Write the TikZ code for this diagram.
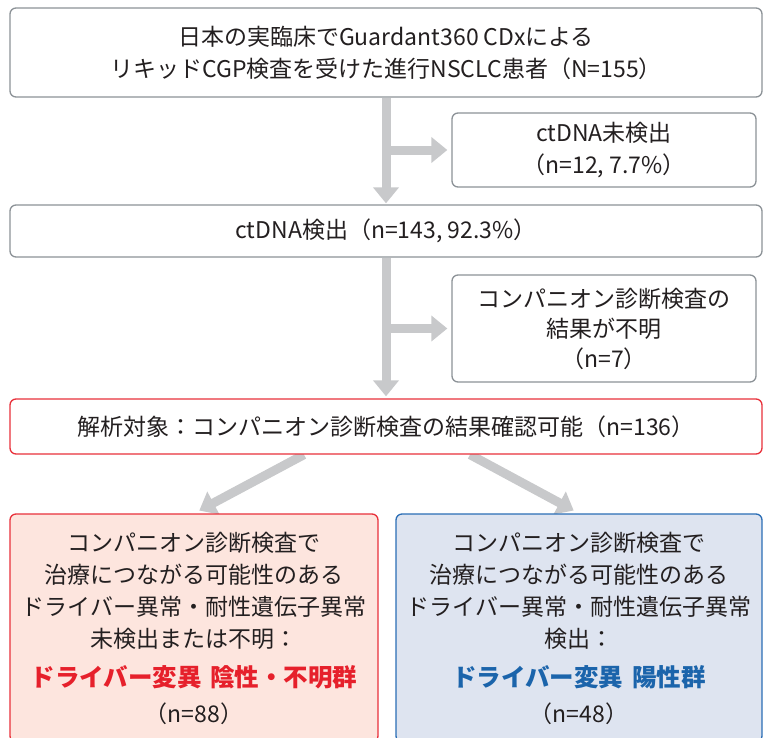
\documentclass[tikz,border=0pt]{standalone}
\usepackage{fontspec}
\setmainfont{Noto Sans CJK JP}
\usetikzlibrary{arrows.meta,backgrounds}
\definecolor{txt}{HTML}{231F20}
\definecolor{arrowgray}{HTML}{C8C9CB}
\definecolor{boxgray}{HTML}{8C9297}
\definecolor{redline}{HTML}{E8303A}
\definecolor{redfill}{HTML}{FDE5DE}
\definecolor{blueline}{HTML}{2A6DB5}
\definecolor{bluefill}{HTML}{DEE4F0}
\definecolor{redtext}{HTML}{E6202B}
\definecolor{bluetext}{HTML}{1B64AB}
\begin{document}
\begin{tikzpicture}[x=1pt,y=-1pt,
  box/.style={draw=boxgray, line width=1.3pt, rounded corners=6pt, fill=white, inner sep=0pt, align=center, text=txt, font=\fontsize{23}{32}\selectfont},
  bigarrow/.style={draw=arrowgray, line width=9pt, -{Triangle[width=25pt,length=16pt]}}
]
\useasboundingbox (0,0) rectangle (771,737);
\node[box, minimum width=752pt, minimum height=89pt] (top) at (386,52.5) {日本の実臨床でGuardant360 CDxによる\\リキッドCGP検査を受けた進行NSCLC患者（N=155）};
\node[box, minimum width=304pt, minimum height=74pt] (undet) at (604,150) {ctDNA未検出\\（n=12, 7.7\%）};
\node[box, minimum width=752pt, minimum height=52pt] (det) at (386,231) {ctDNA検出（n=143, 92.3\%）};
\node[box, minimum width=304pt, minimum height=107pt, font=\fontsize{23}{30}\selectfont] (cdx) at (604,328.5) {コンパニオン診断検査の\\結果が不明\\（n=7）};
\node[box, draw=redline, minimum width=752pt, minimum height=55pt] (target) at (386,426.5) {解析対象：コンパニオン診断検査の結果確認可能（n=136）};
\node[box, draw=redline, fill=redfill, minimum width=368pt, minimum height=228pt] (neg) at (194,628) {コンパニオン診断検査で\\治療につながる可能性のある\\ドライバー異常・耐性遺伝子異常\\未検出または不明：\\[7pt]{\fontsize{24.5}{32}\selectfont\bfseries\color{redtext}ドライバー変異\hspace{0.35em}陰性・不明群}\\[4pt]（n=88）};
\node[box, draw=blueline, fill=bluefill, minimum width=366pt, minimum height=228pt] (pos) at (579,628) {コンパニオン診断検査で\\治療につながる可能性のある\\ドライバー異常・耐性遺伝子異常\\検出：\\[7pt]{\fontsize{24.5}{32}\selectfont\bfseries\color{bluetext}ドライバー変異\hspace{0.35em}陽性群}\\[4pt]（n=48）};
\begin{scope}[on background layer]
\draw[bigarrow, shorten >=1pt] (top.south) -- (det.north);
\draw[bigarrow, shorten >=4pt] (top.south |- undet.west) -- (undet.west);
\draw[bigarrow, shorten >=2pt] (det.south) -- (target.north);
\draw[bigarrow, shorten >=4pt] (det.south |- cdx.west) -- (cdx.west);
\draw[bigarrow, shorten >=6pt] ([xshift=-82pt]target.south) -- (neg.north);
\draw[bigarrow, shorten >=6pt] ([xshift=84pt]target.south) -- (pos.north);
\end{scope}
\end{tikzpicture}
\end{document}
